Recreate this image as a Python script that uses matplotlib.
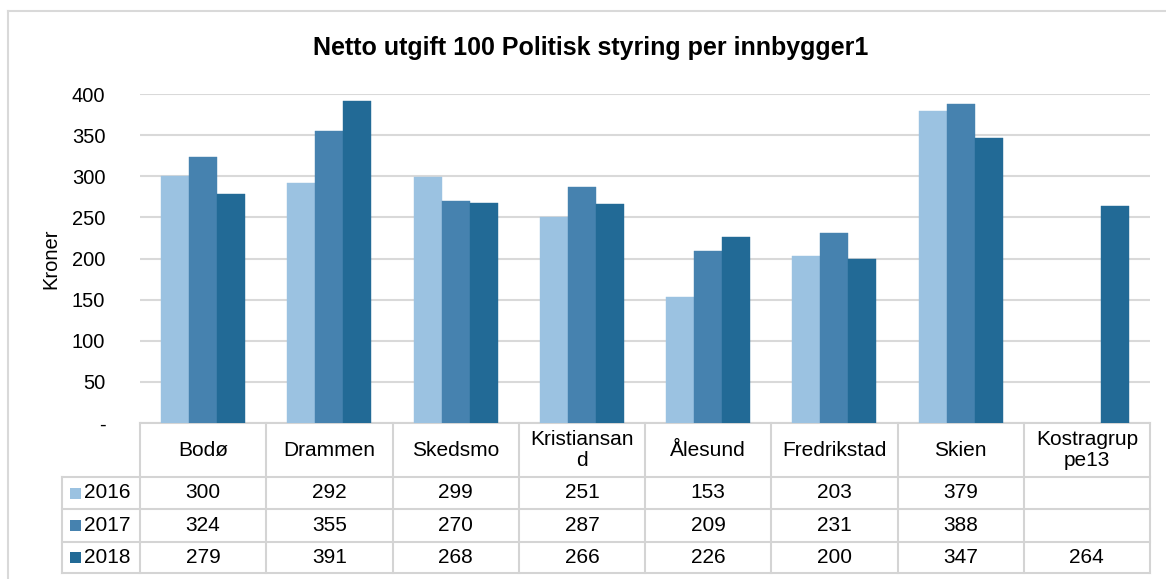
import matplotlib
matplotlib.use("Agg")
import matplotlib.pyplot as plt
from matplotlib.patches import Rectangle
from matplotlib.lines import Line2D
import numpy as np

plt.rcParams['font.family'] = ['Liberation Sans', 'DejaVu Sans']

title = "Netto utgift 100 Politisk styring per innbygger1"
categories = ["Bodø", "Drammen", "Skedsmo", "Kristiansan\nd", "Ålesund",
              "Fredrikstad", "Skien", "Kostragrup\npe13"]
years = ["2016", "2017", "2018"]
v2016 = [300, 292, 299, 251, 153, 203, 379, None]
v2017 = [324, 355, 270, 287, 209, 231, 388, None]
v2018 = [279, 391, 268, 266, 226, 200, 347, 264]
series = [v2016, v2017, v2018]
colors = ["#9BC2E1", "#4682AF", "#226A96"]
yticks = [0, 50, 100, 150, 200, 250, 300, 350, 400]
ytick_labels = ["-", "50", "100", "150", "200", "250", "300", "350", "400"]

W, H = 1166, 579
fig = plt.figure(figsize=(W / 100, H / 100), dpi=100)

def fx(px):
    return px / W

def fy(py):
    return 1 - py / H

# outer chart frame
fig.add_artist(Line2D([fx(8), fx(8)], [fy(11), fy(579)], color="#D9D9D9", lw=1.5))
fig.add_artist(Line2D([fx(8), fx(1166)], [fy(11), fy(11)], color="#D9D9D9", lw=1.5))

left, right, top, bottom = 140, 1150, 94, 423
ax = fig.add_axes([fx(left), fy(bottom), fx(right - left), (bottom - top) / H])

n = len(categories)
x = np.arange(n)
bw = 0.222
for i, (vals, col) in enumerate(zip(series, colors)):
    xs = [xi + (i - 1) * bw for xi, v in zip(x, vals) if v is not None]
    hs = [v for v in vals if v is not None]
    ax.bar(xs, hs, width=bw, color=col, edgecolor=col, linewidth=0.3, zorder=3)

ax.set_xlim(-0.5, n - 0.5)
ax.set_ylim(0, 400)
ax.set_yticks(yticks)
ax.set_yticklabels(ytick_labels, fontsize=14.5)
ax.tick_params(axis='y', length=0, pad=25)
ax.set_xticks([])
for s in ax.spines.values():
    s.set_visible(False)
ax.yaxis.grid(True, color="#D9D9D9", lw=1.5, zorder=0)
ax.set_ylabel("Kroner", fontsize=14.5)
ax.yaxis.set_label_coords(-(left - 60) / (right - left), 0.5)

fig.text(fx(591), fy(48), title, ha="center", va="center", fontsize=18, fontweight="bold")

# data table below the plot, aligned with the category columns
tr = ax.get_xaxis_transform()
axh = bottom - top

def ay(py):
    return (bottom - py) / axh

grid_c = "#D4D4D4"
row_edges = [423, 477, 509, 542, 573]
leg_left = -0.5 - (left - 62) / ((right - left) / n)

# horizontal lines
ax.add_line(Line2D([-0.5, n - 0.5], [ay(423), ay(423)], transform=tr, color=grid_c, lw=1.5, clip_on=False))
for ry in row_edges[1:]:
    ax.add_line(Line2D([leg_left, n - 0.5], [ay(ry), ay(ry)], transform=tr, color=grid_c, lw=1.5, clip_on=False))
# vertical lines
for cx in np.arange(n + 1) - 0.5:
    ax.add_line(Line2D([cx, cx], [ay(423), ay(573)], transform=tr, color=grid_c, lw=1.5, clip_on=False))
ax.add_line(Line2D([leg_left, leg_left], [ay(477), ay(573)], transform=tr, color=grid_c, lw=1.5, clip_on=False))

# category header
for xi, cat in zip(x, categories):
    ax.text(xi, ay(450), cat, transform=tr, ha="center", va="center", fontsize=15,
            linespacing=1.1, clip_on=False)

# rows with legend keys and values
col_w = (right - left) / n
for r, (yr, vals, col) in enumerate(zip(years, series, colors)):
    cy = (row_edges[r + 1] + row_edges[r + 2]) / 2
    kx = leg_left + 8 / col_w
    ax.add_patch(Rectangle((kx, ay(cy + 5.5)), 11 / col_w, 11 / axh, transform=tr,
                           facecolor=col, edgecolor="none", clip_on=False))
    ax.text(leg_left + 22 / col_w, ay(cy), yr, transform=tr, ha="left", va="center",
            fontsize=15, clip_on=False)
    for xi, v in zip(x, vals):
        if v is not None:
            ax.text(xi, ay(cy), str(v), transform=tr, ha="center", va="center",
                    fontsize=15, clip_on=False)

fig.savefig("out.png", dpi=100)
